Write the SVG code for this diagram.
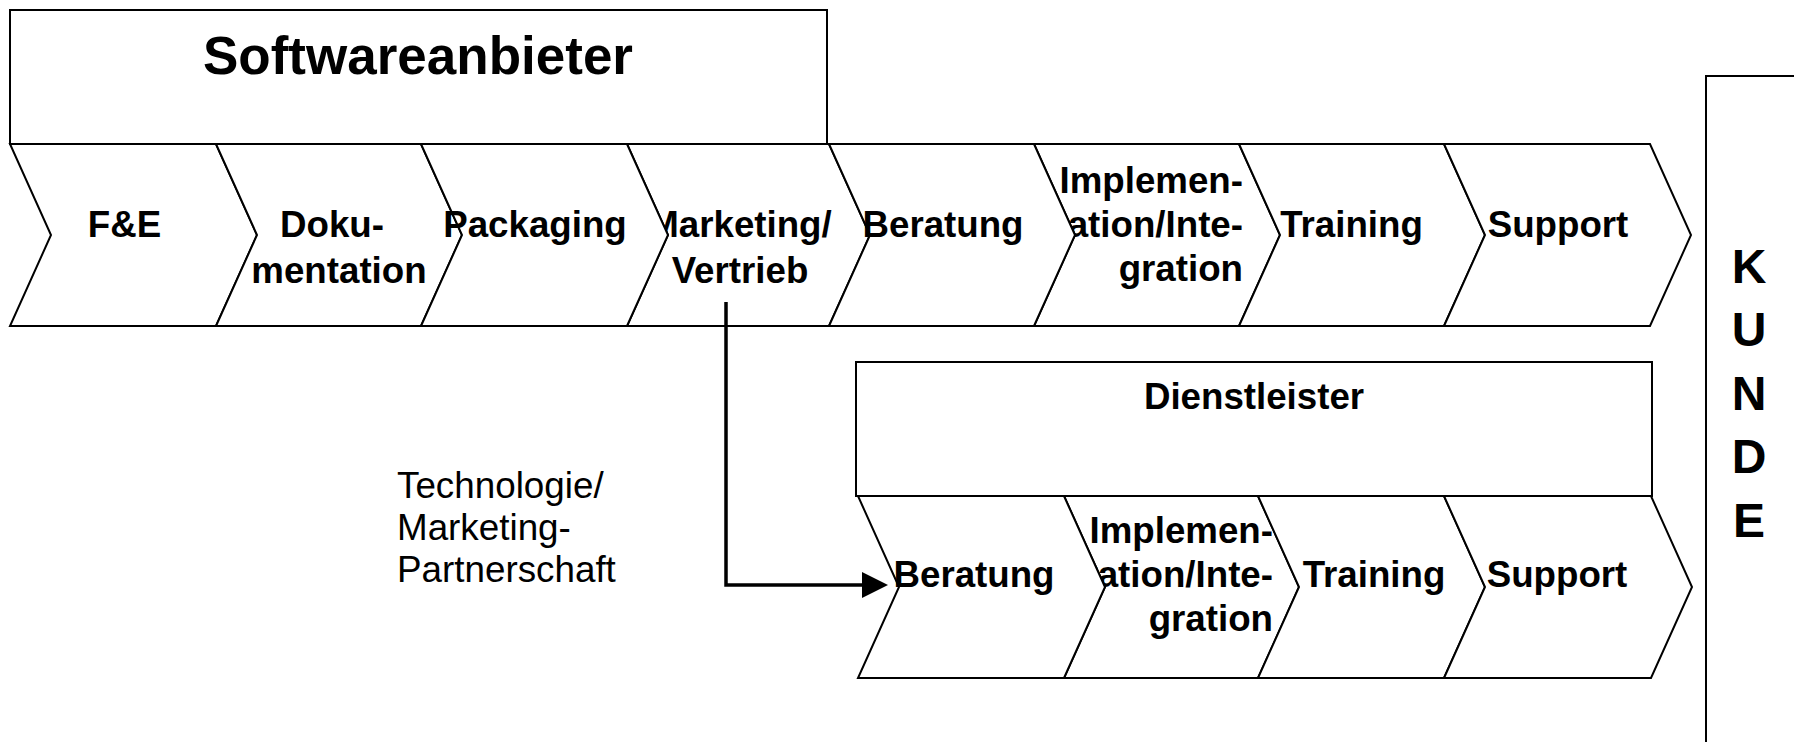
<svg xmlns="http://www.w3.org/2000/svg" width="1794" height="742" viewBox="0 0 1794 742">
<style>
.shape{fill:#fff;stroke:#000;stroke-width:2}
.lbl{font-family:"Liberation Sans",Arial,sans-serif;font-weight:bold;font-size:36.7px;fill:#000}
.reg{font-family:"Liberation Sans",Arial,sans-serif;font-size:36.8px;fill:#000}
.m{text-anchor:middle}
.e{text-anchor:end}
.conn{fill:none;stroke:#000;stroke-width:3.5}
</style>
<defs>
<marker id="arr" markerUnits="userSpaceOnUse" markerWidth="26" markerHeight="26" viewBox="0 0 26 26" refX="2" refY="13" orient="auto">
<path d="M0,0 L26,13 L0,26 z" fill="#000"/>
</marker>
</defs>
<rect width="1794" height="742" fill="#fff"/>

<g id="softwareanbieter">
<rect class="shape" x="10" y="10" width="817" height="134"/>
<text class="lbl m" x="418" y="74" style="font-size:53px">Softwareanbieter</text>
</g>

<g id="kunde">
<rect class="shape" x="1706" y="76" width="140" height="720"/>
<text class="lbl m" x="1749" y="283" style="font-size:48px">K</text>
<text class="lbl m" x="1749" y="346" style="font-size:48px">U</text>
<text class="lbl m" x="1749" y="410" style="font-size:48px">N</text>
<text class="lbl m" x="1749" y="473" style="font-size:48px">D</text>
<text class="lbl m" x="1749" y="537" style="font-size:48px">E</text>
</g>

<g id="sw-fe">
<polygon class="shape" points="10,144 216,144 257,235 216,326 10,326 51,235"/>
<text class="lbl m" x="124.5" y="237">F&amp;E</text>
</g>
<g id="sw-dokumentation">
<polygon class="shape" points="216,144 421,144 462,235 421,326 216,326 257,235"/>
<text class="lbl m" x="332" y="237">Doku-</text>
<text class="lbl m" x="339" y="283">mentation</text>
</g>
<g id="sw-marketing">
<polygon class="shape" points="627,144 829,144 870,235 829,326 627,326 668,235"/>
<text class="lbl m" x="740" y="237">Marketing/</text>
<text class="lbl m" x="740" y="283">Vertrieb</text>
</g>
<g id="sw-packaging">
<polygon class="shape" points="421,144 627,144 668,235 627,326 421,326 462,235"/>
<text class="lbl m" x="535" y="237">Packaging</text>
</g>
<g id="sw-implementation">
<polygon class="shape" points="1034,144 1239,144 1280,235 1239,326 1034,326 1075,235"/>
<text class="lbl e" x="1243" y="193">Implemen-</text>
<text class="lbl e" x="1243" y="237">tation/Inte-</text>
<text class="lbl e" x="1243" y="281">gration</text>
</g>
<g id="sw-beratung">
<polygon class="shape" points="829,144 1034,144 1075,235 1034,326 829,326 870,235"/>
<text class="lbl m" x="943" y="237">Beratung</text>
</g>
<g id="sw-training">
<polygon class="shape" points="1239,144 1444,144 1485,235 1444,326 1239,326 1280,235"/>
<text class="lbl m" x="1351.5" y="237">Training</text>
</g>
<g id="sw-support">
<polygon class="shape" points="1444,144 1650,144 1691,235 1650,326 1444,326 1485,235"/>
<text class="lbl m" x="1558" y="237">Support</text>
</g>

<g id="dienstleister">
<rect class="shape" x="856" y="362" width="796" height="134"/>
<text class="lbl m" x="1254" y="409">Dienstleister</text>
</g>
<g id="dl-implementation">
<polygon class="shape" points="1064,496 1258,496 1299,587 1258,678 1064,678 1105,587"/>
<text class="lbl e" x="1273" y="543">Implemen-</text>
<text class="lbl e" x="1273" y="587">tation/Inte-</text>
<text class="lbl e" x="1273" y="631">gration</text>
</g>
<g id="dl-beratung">
<polygon class="shape" points="858,496 1064,496 1105,587 1064,678 858,678 899,587"/>
<text class="lbl m" x="974" y="587">Beratung</text>
</g>
<g id="dl-training">
<polygon class="shape" points="1258,496 1444,496 1485,587 1444,678 1258,678 1299,587"/>
<text class="lbl m" x="1374" y="587">Training</text>
</g>
<g id="dl-support">
<polygon class="shape" points="1444,496 1651,496 1692,587 1651,678 1444,678 1485,587"/>
<text class="lbl m" x="1557" y="587">Support</text>
</g>

<g id="partnerschaft-label">
<text class="reg" x="397" y="498">Technologie/</text>
<text class="reg" x="397" y="539.5">Marketing-</text>
<text class="reg" x="397" y="581.5">Partnerschaft</text>
</g>

<g id="connectors">
<path class="conn" d="M726,302 V585 H864" marker-end="url(#arr)"/>
</g>
</svg>
